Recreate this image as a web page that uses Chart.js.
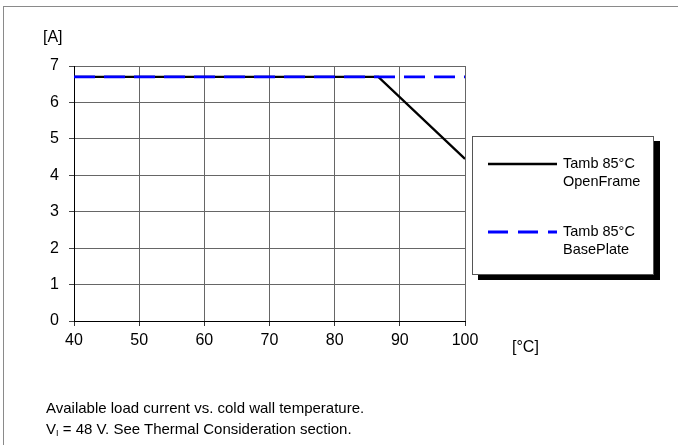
<!DOCTYPE html>
<html>
<head>
<meta charset="utf-8">
<script src="https://cdn.jsdelivr.net/npm/chart.js@4.4.1/dist/chart.umd.min.js"></script>
<style>
  html, body { margin: 0; padding: 0; background: #fff; }
  body { width: 678px; height: 445px; position: relative; overflow: hidden;
         font-family: 'Liberation Sans', Arial, sans-serif; color: #000; }
  #chart { position: absolute; left: 0; top: 0; }
  .frame { position: absolute; left: 3px; top: 6px; right: 0; bottom: 0;
           border-left: 1px solid #8a8a8a; border-top: 1px solid #8a8a8a; }
  .unit { position: absolute; font-size: 16px; line-height: 18px; white-space: nowrap; }
  .legend { position: absolute; left: 472px; top: 136px; width: 180px; height: 137px;
            background: #fff; border: 1px solid #555; box-shadow: 6px 5px 0 #000; }
  .legend svg { position: absolute; left: 0; top: 0; }
  .legend .lbl { position: absolute; left: 90px; font-size: 14.5px; line-height: 17.5px; white-space: nowrap; }
  .caption { position: absolute; left: 46px; top: 397px; font-size: 15px; line-height: 21px; white-space: nowrap; }
  .caption sub { font-size: 9px; vertical-align: -2px; }
</style>
</head>
<body>
<div class="frame"></div>
<canvas id="chart" width="678" height="445"></canvas>
<div class="unit" style="left:43px; top:28px;">[A]</div>
<div class="unit" style="left:512px; top:338px;">[°C]</div>
<div class="legend">
  <svg width="180" height="137">
    <line x1="15" y1="27" x2="84" y2="27" stroke="#000" stroke-width="2.5"/>
    <line x1="15" y1="95" x2="84" y2="95" stroke="#0000ff" stroke-width="3" stroke-dasharray="20 10"/>
  </svg>
  <div class="lbl" style="top:18px;">Tamb 85°C<br>OpenFrame</div>
  <div class="lbl" style="top:86px;">Tamb 85°C<br>BasePlate</div>
</div>
<div class="caption">Available load current vs. cold wall temperature.<br>V<sub>I</sub> = 48 V. See Thermal Consideration section.</div>

<script>
// data
const openFrameTemp = [40, 86.7, 100];
const openFrameCurrent = [6.7, 6.7, 4.45];
const basePlateTemp = [40, 100];
const basePlateCurrent = [6.7, 6.7];
const xTicks = [40, 50, 60, 70, 80, 90, 100];
const yTicks = [0, 1, 2, 3, 4, 5, 6, 7];

function toPoints(xs, ys) {
    return xs.map((x, i) => ({ x: x, y: ys[i] }));
}

Chart.defaults.font.family = "'Liberation Sans', Arial, sans-serif";
Chart.defaults.color = '#000';

const ctx = document.getElementById('chart').getContext('2d');
new Chart(ctx, {
    type: 'line',
    data: {
        datasets: [{
            label: 'Tamb 85°C OpenFrame',
            data: toPoints(openFrameTemp, openFrameCurrent),
            borderColor: '#000',
            borderWidth: 2.3,
            pointRadius: 0,
            tension: 0,
            order: 1
        }, {
            label: 'Tamb 85°C BasePlate',
            data: toPoints(basePlateTemp, basePlateCurrent),
            borderColor: '#0000ff',
            borderWidth: 2.7,
            borderDash: [21, 9],
            pointRadius: 0,
            tension: 0,
            order: 0
        }]
    },
    options: {
        responsive: false,
        animation: false,
        layout: { padding: { top: 66, right: 213, left: 0, bottom: 0 } },
        plugins: { legend: { display: false }, tooltip: { enabled: false } },
        scales: {
            x: {
                type: 'linear',
                min: xTicks[0],
                max: xTicks[xTicks.length - 1],
                afterFit: function (scale) { scale.height = 124; },
                afterBuildTicks: function (scale) { scale.ticks = xTicks.map(v => ({ value: v })); },
                ticks: { font: { size: 16 }, padding: 5, maxRotation: 0 },
                grid: { color: '#666', lineWidth: 1, tickLength: 5, tickColor: '#333' },
                border: { display: true, color: '#000', width: 1 }
            },
            y: {
                type: 'linear',
                min: yTicks[0],
                max: yTicks[yTicks.length - 1],
                afterFit: function (scale) { scale.width = 74; },
                afterBuildTicks: function (scale) { scale.ticks = yTicks.map(v => ({ value: v })); },
                ticks: { font: { size: 16 }, padding: 10 },
                grid: { color: '#666', lineWidth: 1, tickLength: 5, tickColor: '#444' },
                border: { display: true, color: '#000', width: 1 }
            }
        }
    }
});
</script>
</body>
</html>
